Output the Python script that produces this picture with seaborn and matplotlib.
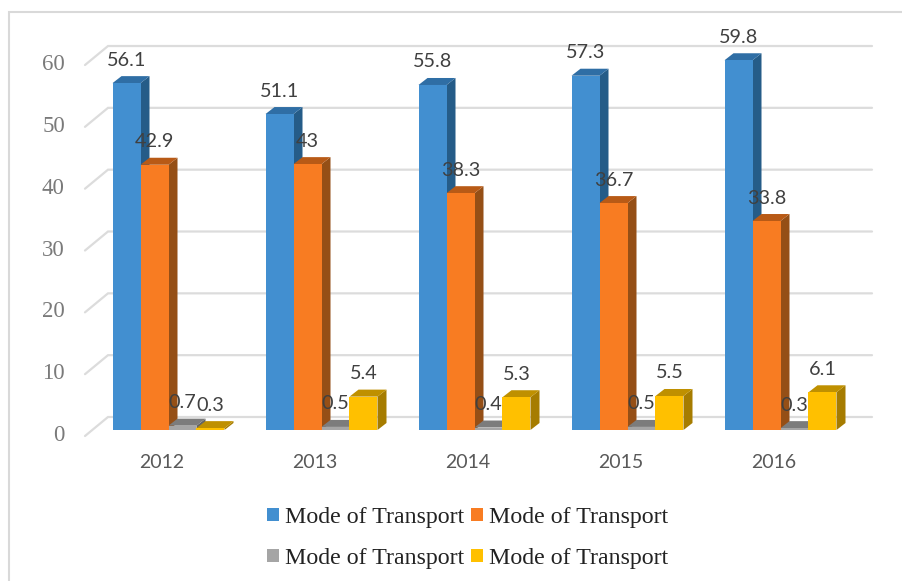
import numpy as np
import pandas as pd
import seaborn as sns
import matplotlib.pyplot as plt
from matplotlib.lines import Line2D
from matplotlib.patches import Polygon, Patch
from matplotlib.transforms import ScaledTranslation

# values
years = ['2012', '2013', '2014', '2015', '2016']
series_a = [56.1, 51.1, 55.8, 57.3, 59.8]
series_b = [42.9, 43, 38.3, 36.7, 33.8]
series_c = [0.7, 0.5, 0.4, 0.5, 0.3]
series_d = [0.3, 5.4, 5.3, 5.5, 6.1]
legend_label = 'Mode of Transport'
y_ticks = [0, 10, 20, 30, 40, 50, 60]

front = ['#428FD0', '#F87C22', '#A5A5A5', '#FFC000']
top = ['#2F6EA5', '#B85A16', '#7C7C7C', '#BF9000']
side = ['#255C88', '#954F16', '#646464', '#A67C00']

W, H = 903, 581
sns.set_theme(style='white')
plt.rcParams['font.family'] = ['Lato', 'DejaVu Sans']

df = pd.DataFrame({'year': years, 'a': series_a, 'b': series_b, 'c': series_c, 'd': series_d})
df = df.melt(id_vars='year', var_name='series', value_name='value')

fig = plt.figure(figsize=(W / 100, H / 100), dpi=100)
# axes in pixels: baseline of the bars at y=430, one group every 153 px
px_y = 6.183
px_x = 153.0
ax = fig.add_axes([85 / W, (H - 430) / H, (872 - 85) / W, 390 / H])
sns.barplot(data=df, x='year', y='value', hue='series', palette=front, width=0.732,
            saturation=1, linewidth=0, edgecolor='none', ax=ax, zorder=3, legend=False)
ax.set_xlim((85 - 168.5) / px_x, (872 - 168.5) / px_x)
ax.set_ylim(0, 390 / px_y)
for s in ax.spines.values():
    s.set_visible(False)
ax.set_xlabel('')
ax.set_ylabel('')
ax.patch.set_alpha(0)

dx = 9 / px_x
dy = 7 / px_y

# walls: diagonal stub plus back gridline
for v in y_ticks:
    y_left = v - 6 / px_y
    y_back = v + 13 / px_y
    ax.plot([(85 - 168.5) / px_x, (108 - 168.5) / px_x, (872 - 168.5) / px_x], [y_left, y_back, y_back],
            color='#DCDCDC', lw=1.6, clip_on=False, zorder=1, solid_joinstyle='miter')

# 3d faces and labels built from the bars seaborn placed
for i, cont in enumerate(ax.containers):
    for b in cont:
        x0, w, h = b.get_x(), b.get_width(), b.get_height()
        x1 = x0 + w
        ax.add_patch(Polygon([(x1, 0), (x1 + dx, dy), (x1 + dx, h + dy), (x1, h)],
                             facecolor=side[i], edgecolor='none', zorder=3 + i * 0.1 + 0.01, clip_on=False))
        ax.add_patch(Polygon([(x0, h), (x0 + dx, h + dy), (x1 + dx, h + dy), (x1, h)],
                             facecolor=top[i], edgecolor='none', zorder=3 + i * 0.1 + 0.01, clip_on=False))
        b.set_zorder(3 + i * 0.1 + 0.02)
        ax.annotate(f'{h:g}', (x0 + w / 2, h), xytext=(0, 23 * 0.72), textcoords='offset points',
                    ha='center', va='center', fontsize=14.3, color='#404040', zorder=6,
                    annotation_clip=False)

ax.tick_params(axis='both', length=0)
ax.set_yticks(y_ticks)
ax.set_yticklabels([str(v) for v in y_ticks], family='Liberation Serif', fontsize=16.5, color='#7A7A7A')
ax.tick_params(axis='y', pad=14.5)
ax.set_xticks(range(5))
ax.set_xticklabels(years, fontsize=14, color='#595959')
ax.tick_params(axis='x', pad=17.5)

# tick labels sit off the bar groups in the reference
for lab in ax.get_xticklabels():
    lab.set_transform(lab.get_transform() + ScaledTranslation(-7 / 100, 0, fig.dpi_scale_trans))
for lab in ax.get_yticklabels():
    lab.set_transform(lab.get_transform() + ScaledTranslation(0, -3 / 100, fig.dpi_scale_trans))

# outer frame: only left and top edges show
fig.add_artist(Line2D([9 / W, 9 / W, 1], [0, 1 - 12 / H, 1 - 12 / H], transform=fig.transFigure,
                      color='#D9D9D9', lw=1.5, solid_joinstyle='miter'))

# columns fill first, so gray goes under blue
handles = [Patch(facecolor=front[i], edgecolor='none') for i in [0, 2, 1, 3]]
fig.legend(handles, [legend_label] * 4, ncol=2, loc='center', bbox_to_anchor=(467.5 / W, 1 - 538 / H),
           frameon=False, prop={'family': 'Liberation Serif', 'size': 17.2}, labelcolor='#222222',
           handlelength=0.5, handleheight=0.5, handletextpad=0.25, columnspacing=0.3, labelspacing=0.85)

fig.savefig('out.png', dpi=100)
